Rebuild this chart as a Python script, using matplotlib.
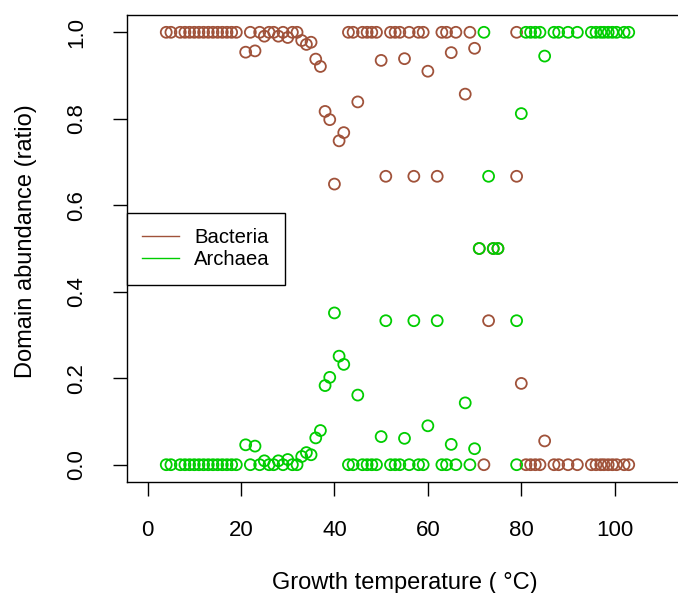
import numpy as np
import matplotlib.pyplot as plt

plt.rcParams['font.family'] = ['Liberation Sans', 'DejaVu Sans']

# growth temperature (°C) of each sample
temperature = [4, 5, 7, 8, 9, 10, 11, 12, 13, 14, 15, 16, 17, 18, 19,
               21, 22, 23, 24, 25, 26, 27, 28, 29, 30, 31, 32, 33, 34, 35,
               36, 37, 38, 39, 40, 41, 42, 43, 44, 45, 46, 47, 48, 49, 50,
               51, 52, 53, 54, 55, 56, 57, 58, 59, 60, 62, 63, 64, 65, 66,
               68, 69, 70, 71, 72, 73, 74, 75, 79, 79, 80, 81, 82, 83, 84,
               85, 87, 88, 90, 92, 95, 96, 97, 97.7, 98.6, 99.5, 100.4, 102, 103]

bacteria = [1, 1, 1, 1, 1, 1, 1, 1, 1, 1, 1, 1, 1, 1, 1,
            0.954, 1, 0.957, 1, 0.991, 1, 1, 0.991, 1, 0.988, 1, 1, 0.981, 0.972, 0.977,
            0.938, 0.921, 0.817, 0.798, 0.649, 0.749, 0.768, 1, 1, 0.839, 1, 1, 1, 1, 0.935,
            0.667, 1, 1, 1, 0.939, 1, 0.667, 1, 1, 0.910, 0.667, 1, 1, 0.953, 1,
            0.857, 1, 0.963, 0.5, 0, 0.333, 0.5, 0.5, 1, 0.667, 0.188, 0, 0, 0, 0,
            0.055, 0, 0, 0, 0, 0, 0, 0, 0, 0, 0, 0, 0, 0]

archaea = [0, 0, 0, 0, 0, 0, 0, 0, 0, 0, 0, 0, 0, 0, 0,
           0.046, 0, 0.043, 0, 0.009, 0, 0, 0.009, 0, 0.012, 0, 0, 0.019, 0.028, 0.023,
           0.062, 0.079, 0.183, 0.202, 0.351, 0.251, 0.232, 0, 0, 0.161, 0, 0, 0, 0, 0.065,
           0.333, 0, 0, 0, 0.061, 0, 0.333, 0, 0, 0.090, 0.333, 0, 0, 0.047, 0,
           0.143, 0, 0.037, 0.5, 1, 0.667, 0.5, 0.5, 0, 0.333, 0.812, 1, 1, 1, 1,
           0.945, 1, 1, 1, 1, 1, 1, 1, 1, 1, 1, 1, 1, 1]

col_bac = '#A0523A'
col_arc = '#00CD00'

fig = plt.figure(figsize=(6.78, 5.93), dpi=100)
ax = fig.add_axes([127 / 678, 111 / 593, 555 / 678, 467 / 593])

ax.scatter(temperature, bacteria, s=62, facecolors='none', edgecolors=col_bac, linewidths=1.3)
ax.scatter(temperature, archaea, s=62, facecolors='none', edgecolors=col_arc, linewidths=1.3)

ax.set_xlim(-4.4, 114.4)
ax.set_ylim(-0.04, 1.04)
ax.set_xticks([0, 20, 40, 60, 80, 100])
ax.set_yticks([0, 0.2, 0.4, 0.6, 0.8, 1.0])
ax.set_yticklabels(['0.0', '0.2', '0.4', '0.6', '0.8', '1.0'], rotation=90, va='center')
ax.tick_params(length=10, width=1, labelsize=16, direction='out')
ax.tick_params(axis='x', pad=17)
ax.tick_params(axis='y', pad=18.5)
for sp in ax.spines.values():
    sp.set_linewidth(1)

ax.set_xlabel('Growth temperature ( °C)', fontsize=17, labelpad=23)
ax.set_ylabel('Domain abundance (ratio)', fontsize=17)
ax.yaxis.set_label_coords(-0.162, 0.515)

ax.plot([], [], color=col_bac, lw=1, label='Bacteria')
ax.plot([], [], color=col_arc, lw=1, label='Archaea')
leg = ax.legend(loc='upper left', bbox_to_anchor=(0, 0.576), fontsize=14.6, frameon=True,
                fancybox=False, edgecolor='black', framealpha=1, borderaxespad=0,
                handlelength=1.8, handletextpad=0.75, labelspacing=0.16, borderpad=0.75)
leg.get_frame().set_linewidth(1)

fig.savefig('out.png', dpi=100)
